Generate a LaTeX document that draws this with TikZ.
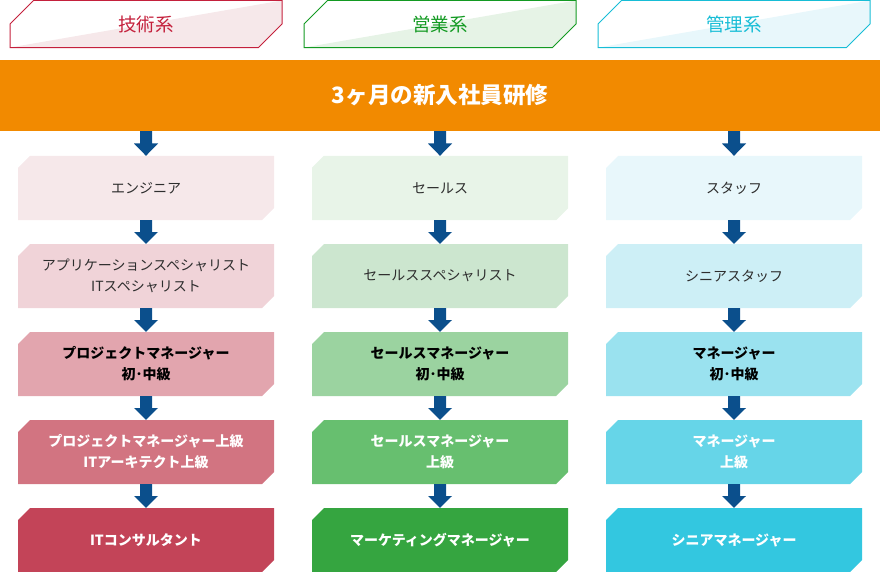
\documentclass[tikz,border=0pt]{standalone}
\usepackage{fontspec}
\setmainfont{Noto Sans CJK JP}
\usetikzlibrary{calc,shapes.misc}

\definecolor{techc}{HTML}{C4203C}
\definecolor{techl}{HTML}{F6E8EA}
\definecolor{salesc}{HTML}{139A22}
\definecolor{salesl}{HTML}{E6F3E6}
\definecolor{mgmtc}{HTML}{17BDD6}
\definecolor{mgmtl}{HTML}{E8F7FB}
\definecolor{introc}{HTML}{F28A00}
\definecolor{arrowc}{HTML}{0B4F8C}

\definecolor{techa}{HTML}{F6E8EA}
\definecolor{techb}{HTML}{F0D3D8}
\definecolor{techd}{HTML}{E2A5AE}
\definecolor{teche}{HTML}{D27481}
\definecolor{techf}{HTML}{C34458}
\definecolor{salesa}{HTML}{E8F4E8}
\definecolor{salesb}{HTML}{CCE6CF}
\definecolor{salesd}{HTML}{9BD3A0}
\definecolor{salese}{HTML}{67BF6F}
\definecolor{salesf}{HTML}{35A540}
\definecolor{mgmta}{HTML}{E8F7FB}
\definecolor{mgmtb}{HTML}{CDEFF6}
\definecolor{mgmtd}{HTML}{9AE2EF}
\definecolor{mgmte}{HTML}{66D5E8}
\definecolor{mgmtf}{HTML}{33C7E0}

\tikzset{
  headtab/.style 2 args={chamfered rectangle, chamfered rectangle corners={north west,south east},
    chamfered rectangle sep=15pt, minimum width=272pt, minimum height=46pt, inner sep=0pt,
    line width=1pt, draw=#1, text=#1, font=\fontsize{18.5}{22}\selectfont,
    path picture={\fill [#2] (path picture bounding box.south west) -- (path picture bounding box.north east) -- (path picture bounding box.south east) -- cycle;}},
  stagebox/.style={chamfered rectangle, chamfered rectangle corners={north west,south east},
    chamfered rectangle sep=6pt, minimum width=256pt, minimum height=64pt, inner sep=0pt,
    align=center, fill=#1, text=black!82, font=\fontsize{14}{21}\selectfont},
  upper/.style={font=\fontsize{14}{21}\selectfont\bfseries, text=black},
  senior/.style={font=\fontsize{14}{21}\selectfont\bfseries, text=white},
}

\newcommand{\flowarrow}[2]{%
  \fill [arrowc] ($(#1)+(-6,0)$) -- ($(#1)+(6,0)$) -- ($(#1)!0.5!(#2)+(6,0)$)
    -- ($(#1)!0.5!(#2)+(12,0)$) -- (#2) -- ($(#1)!0.5!(#2)+(-12,0)$)
    -- ($(#1)!0.5!(#2)+(-6,0)$) -- cycle;}

\begin{document}
\begin{tikzpicture}[x=1pt,y=-1pt]
      \useasboundingbox (0,0) rectangle (880,572);

      \node [headtab={techc}{techl}] (tech) at (146,24) {技術系};
      \node [headtab={salesc}{salesl}] (sales) at (440,24) {営業系};
      \node [headtab={mgmtc}{mgmtl}] (mgmt) at (734,24) {管理系};

      \node [fill=introc, minimum width=880pt, minimum height=71pt, inner sep=0pt,
        text=white, font=\fontsize{22.5}{26}\selectfont\bfseries] (intro) at (440,95.5) {3ヶ月の新入社員研修};

      \node [stagebox=techa] (t1) at (146,188) {エンジニア};
      \node [stagebox=techb] (t2) at (146,276) {アプリケーションスペシャリスト\\ITスペシャリスト};
      \node [stagebox=techd, upper] (t3) at (146,364) {プロジェクトマネージャー\\初･中級};
      \node [stagebox=teche, senior] (t4) at (146,452) {プロジェクトマネージャー上級\\ITアーキテクト上級};
      \node [stagebox=techf, senior] (t5) at (146,540) {ITコンサルタント};

      \node [stagebox=salesa] (s1) at (440,188) {セールス};
      \node [stagebox=salesb] (s2) at (440,276) {セールススペシャリスト};
      \node [stagebox=salesd, upper] (s3) at (440,364) {セールスマネージャー\\初･中級};
      \node [stagebox=salese, senior] (s4) at (440,452) {セールスマネージャー\\上級};
      \node [stagebox=salesf, senior] (s5) at (440,540) {マーケティングマネージャー};

      \node [stagebox=mgmta] (m1) at (734,188) {スタッフ};
      \node [stagebox=mgmtb] (m2) at (734,276) {シニアスタッフ};
      \node [stagebox=mgmtd, upper] (m3) at (734,364) {マネージャー\\初･中級};
      \node [stagebox=mgmte, senior] (m4) at (734,452) {マネージャー\\上級};
      \node [stagebox=mgmtf, senior] (m5) at (734,540) {シニアマネージャー};

      \foreach \c in {t,s,m} {
        \coordinate (\c0) at (intro.south -| \c1.north);
        \flowarrow{\c0}{\c1.north}
        \foreach \i [evaluate=\i as \j using int(\i+1)] in {1,...,4}
          {\flowarrow{\c\i.south}{\c\j.north}}
      }
    \end{tikzpicture}
\end{document}
